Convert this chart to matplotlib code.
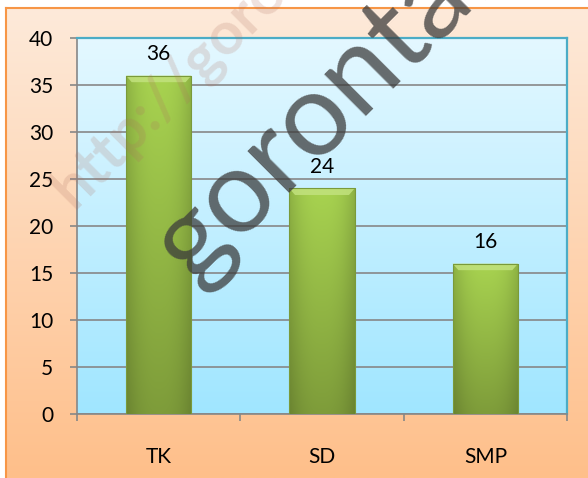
import numpy as np
import matplotlib
matplotlib.use('Agg')
import matplotlib.pyplot as plt
from matplotlib.patches import Polygon

plt.rcParams['font.family'] = ['Lato', 'DejaVu Sans']

categories = ['TK', 'SD', 'SMP']
values = [36, 24, 16]
y_ticks = [0, 5, 10, 15, 20, 25, 30, 35, 40]

W, H = 588, 478
fig = plt.figure(figsize=(W / 100, H / 100), dpi=100)
fig.patch.set_facecolor('white')


def vgrad(top, bottom, n=256):
    t = np.linspace(0, 1, n)[:, None]
    top = np.array(top) / 255.0
    bottom = np.array(bottom) / 255.0
    g = top * (1 - t) + bottom * t
    return g[:, None, :]


# outer frame with peach -> orange gradient
bg = fig.add_axes([6 / W, 0, 1 - 6 / W, 1 - 8 / H])
bg.imshow(vgrad((253, 234, 218), (255, 191, 138)), aspect='auto',
          extent=[0, 1, 0, 1], origin='upper')
bg.set_xlim(0, 1)
bg.set_ylim(0, 1)
bg.set_xticks([])
bg.set_yticks([])
for s in ['right', 'bottom']:
    bg.spines[s].set_visible(False)
for s in ['top', 'left']:
    bg.spines[s].set_color('#F79646')
    bg.spines[s].set_linewidth(1.5)

# plot area
ax = fig.add_axes([77 / W, (H - 414) / H, 490 / W, 376 / H])
ax.imshow(vgrad((228, 248, 255), (160, 230, 255)), aspect='auto',
          extent=[-0.5, 2.5, 0, 40], origin='upper', zorder=0)
ax.set_xlim(-0.5, 2.5)
ax.set_ylim(0, 40)
ax.set_axisbelow(True)
ax.yaxis.grid(True, color='#878787', linewidth=1.2)
ax.set_yticks(y_ticks)

x = np.arange(len(categories))
bars = ax.bar(x, values, width=0.4, color='#98C142', zorder=2)

# green gradient inside each bar
for b in bars:
    x0, w, h = b.get_x(), b.get_width(), b.get_height()
    ny, nx = 200, 60
    ty = np.linspace(0, 1, ny)[:, None]
    tx = np.linspace(-1, 1, nx)[None, :]
    top = np.array([168, 211, 80]) / 255.0
    bot = np.array([126, 156, 58]) / 255.0
    col = top[None, None, :] * (1 - ty[..., None]) + bot[None, None, :] * ty[..., None]
    shade = 1 - 0.16 * np.abs(tx) ** 2.5
    img = np.clip(col * shade[..., None], 0, 1)
    im = ax.imshow(img, aspect='auto', extent=[x0, x0 + w, 0, h],
                   origin='upper', zorder=3)
    im.set_clip_path(b)
    # top bevel
    d, bh = 0.035, 0.7
    bevel = Polygon([[x0, h], [x0 + w, h], [x0 + w - d, h - bh], [x0 + d, h - bh]],
                    closed=True, facecolor='#C2E27E', edgecolor='none', alpha=0.85, zorder=4)
    ax.add_patch(bevel)
    ax.plot([x0, x0, x0 + w, x0 + w], [0, h, h, 0], color='#7A9A3A', lw=0.8, zorder=4)
    ax.annotate(str(int(h)), (x0 + w / 2, h), xytext=(0, 8), textcoords='offset points',
                ha='center', va='bottom', fontsize=15, zorder=5)

# axes styling
ax.set_xticks([-0.5, 0.5, 1.5, 2.5])
ax.set_xticklabels([])
ax.set_xticks(x, minor=True)
ax.set_xticklabels(categories, minor=True, fontsize=15)
ax.tick_params(axis='x', which='major', length=5, color='#878787', width=1.2)
ax.tick_params(axis='x', which='minor', length=0, pad=24)
ax.tick_params(axis='y', length=5, color='#878787', width=1.2, labelsize=15, pad=12)
for s in ['top', 'right']:
    ax.spines[s].set_color('#4BACC6')
    ax.spines[s].set_linewidth(1.6)
for s in ['left', 'bottom']:
    ax.spines[s].set_color('#878787')
    ax.spines[s].set_linewidth(1.2)

# watermarks
fig.text(74 / W, 1 - 210 / H, 'http://gorontalo', rotation=45, rotation_mode='anchor',
         ha='left', va='baseline', fontsize=43, fontweight='bold',
         color='#B07060', alpha=0.2, zorder=10)
fig.text(346 / W, 1 - 88 / H, 'gorontalo', rotation=45, rotation_mode='anchor',
         ha='center', va='center', fontsize=84, color='#3C3C3C', alpha=0.75, zorder=10)

fig.savefig('out.png', dpi=100)
